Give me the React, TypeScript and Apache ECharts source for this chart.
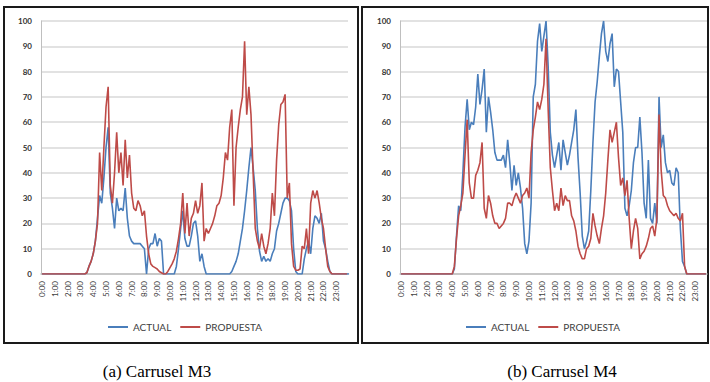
import React, { useEffect, useRef } from 'react';
import * as echarts from 'echarts';

const HOURS = ['0:00', '1:00', '2:00', '3:00', '4:00', '5:00', '6:00', '7:00', '8:00', '9:00', '10:00', '11:00',
  '12:00', '13:00', '14:00', '15:00', '16:00', '17:00', '18:00', '19:00', '20:00', '21:00', '22:00', '23:00'];
const MINUTES = ['00', '10', '20', '30', '40', '50'];
const CATEGORIES = HOURS.flatMap((h) => MINUTES.map((m) => h.slice(0, -2) + m));

const SERIES_NAMES = ['ACTUAL', 'PROPUESTA'];
const CAPTIONS = ['(a) Carrusel M3', '(b) Carrusel M4'];

const M3_ACTUAL = [
  0, 0, 0, 0, 0, 0, 0, 0, 0, 0, 0, 0, 0, 0, 0, 0, 0, 0, 0, 0, 0,
  0.5, 3, 5, 8, 13, 22, 31, 28, 38, 50, 58, 32, 26, 18, 30, 25, 26, 25, 34, 22,
  15, 13, 12, 12, 12, 12, 11, 10, 0, 10, 12, 12, 16, 11, 14, 13, 0, 0, 0, 0,
  0, 0, 3, 10, 18, 25, 14, 11, 11, 15, 20, 21, 15, 5, 8, 3, 0, 0, 0, 0,
  0, 0, 0, 0, 0, 0, 0, 0, 1, 3, 5, 8, 13, 18, 25, 33, 42, 50, 42, 33,
  18, 9, 5, 7, 5, 6, 5, 8, 10, 17, 20, 24, 28, 30, 30, 29, 25, 10, 1, 0,
  0, 0, 6, 10, 13, 8, 18, 23, 22, 20, 24, 13, 10, 5, 1,
  0, 0, 0, 0, 0, 0, 0, 0, 0,
];
const M3_PROPUESTA = [
  0, 0, 0, 0, 0, 0, 0, 0, 0, 0, 0, 0, 0, 0, 0, 0, 0, 0, 0, 0, 0,
  0.5, 3, 5, 8, 13, 20, 48, 33, 50, 66, 74, 35, 28, 40, 56, 40, 48, 35, 53, 38,
  47, 32, 26, 25, 29, 27, 23, 25, 15, 8, 4, 3, 2.5, 2, 1, 0.5, 0, 0, 1, 2.5,
  4, 6, 9, 14, 20, 32, 16, 28, 15, 22, 24, 29, 24, 27, 36, 13, 18, 16, 18, 20,
  23, 27, 28, 31, 38, 48, 45, 58, 65, 27, 50, 58, 65, 70, 92, 63, 74, 63, 40, 18,
  13, 10, 16, 11, 8, 12, 18, 32, 23, 45, 59, 67, 68, 71, 30, 36, 12, 3, 1.5, 1.5,
  2, 11, 10, 18, 8, 28, 33, 30, 33, 28, 22, 18, 10, 3, 1,
  0, 0, 0, 0, 0, 0, 0, 0,
];
const M4_ACTUAL = [
  0, 0, 0, 0, 0, 0, 0, 0, 0, 0, 0, 0, 0, 0, 0, 0, 0, 0, 0, 0, 0, 0, 0, 0, 0,
  2, 15, 27, 25, 40, 58, 69, 57, 60, 59, 66, 79, 67, 73, 81, 56, 70, 64, 57, 48,
  45, 45, 45, 47, 42, 53, 44, 33, 43, 35, 40, 34, 26, 12, 8, 13, 28, 70, 75, 92,
  99, 88, 94, 100, 82, 56, 47, 42, 47, 52, 41, 53, 48, 43, 47, 52, 57, 65, 46, 32,
  15, 10, 13, 17, 33, 52, 68, 76, 86, 95, 100, 88, 84, 91, 95, 74, 81, 80, 68, 56,
  26, 23, 27, 33, 44, 50, 50, 62, 48, 28, 22, 45, 22, 20, 28, 20, 70, 50, 55, 44,
  40, 41, 36, 35, 42, 40, 18, 5, 3,
  0, 0, 0, 0, 0, 0, 0, 0, 0, 0,
];
const M4_PROPUESTA = [
  0, 0, 0, 0, 0, 0, 0, 0, 0, 0, 0, 0, 0, 0, 0, 0, 0, 0, 0, 0, 0, 0, 0, 0, 0,
  3, 14, 23, 27, 32, 47, 61, 36, 30, 30, 39, 41, 44, 52, 26, 22, 31, 28, 23, 20,
  20, 18, 19, 20, 22, 28, 28, 27, 30, 32, 30, 28, 31, 32, 34, 30, 48, 57, 62, 68,
  65, 69, 75, 93, 65, 42, 33, 25, 28, 25, 34, 27, 31, 29, 29, 23, 21, 17, 11, 8,
  6, 6, 10, 11, 14, 24, 19, 15, 12, 18, 23, 32, 45, 57, 52, 56, 60, 46, 35, 38,
  31, 37, 22, 10, 17, 22, 18, 6, 8, 9, 11, 14, 18, 19, 15, 22, 63, 41, 31, 30,
  27, 25, 24, 23, 24, 22, 21, 24, 3,
  0, 0, 0, 0, 0, 0, 0, 0, 0, 0,
];

const PANELS = [
  { actual: M3_ACTUAL, propuesta: M3_PROPUESTA },
  { actual: M4_ACTUAL, propuesta: M4_PROPUESTA },
];

const FONT = 'Lato';
const BLUE = '#4a7ebb';
const RED = '#be4b48';

export default function App() {
  const ref = useRef<HTMLDivElement>(null);
  useEffect(() => {
    const chart = echarts.init(ref.current!, null, { renderer: 'svg' });
    const grids = [
      { left: 41, top: 21, width: 307, height: 253 },
      { left: 400, top: 21, width: 307, height: 253 },
    ];
    const xAxis = grids.map((_, k) => ({
      type: 'category',
      gridIndex: k,
      data: CATEGORIES,
      boundaryGap: true,
      axisLine: { lineStyle: { color: '#bfbfbf', width: 1.5 } },
      axisTick: { interval: 0, length: 3, lineStyle: { color: '#bfbfbf' } },
      axisLabel: { interval: 5, rotate: 90, fontSize: 8, color: '#404040', margin: 7, fontFamily: FONT },
    }));
    const yAxis = grids.map((_, k) => ({
      type: 'value',
      gridIndex: k,
      min: 0,
      max: 100,
      interval: 10,
      axisLine: { show: true, lineStyle: { color: '#bfbfbf' } },
      axisTick: { show: false },
      splitLine: { lineStyle: { color: '#d9d9d9', width: 1.5 } },
      axisLabel: { fontSize: 8, color: '#333', margin: 9, fontFamily: FONT, fontWeight: 'bold' },
    }));
    const series: any[] = [];
    PANELS.forEach((p, k) => {
      series.push({
        type: 'line', name: SERIES_NAMES[0], xAxisIndex: k, yAxisIndex: k, data: p.actual,
        symbol: 'none', color: BLUE, lineStyle: { color: BLUE, width: 1.6 },
      });
      series.push({
        type: 'line', name: SERIES_NAMES[1], xAxisIndex: k, yAxisIndex: k, data: p.propuesta,
        symbol: 'none', color: RED, lineStyle: { color: RED, width: 1.6 },
      });
    });
    const legendBase = {
      top: 322,
      padding: 0,
      data: SERIES_NAMES,
      icon: 'rect',
      itemWidth: 20,
      itemHeight: 2,
      itemGap: 9,
      selectedMode: false,
      textStyle: { fontSize: 10, color: '#404040', fontFamily: FONT },
    };
    chart.setOption({
      animation: false,
      backgroundColor: '#fff',
      grid: grids,
      xAxis,
      yAxis,
      series,
      legend: [
        { ...legendBase, left: 108 },
        { ...legendBase, left: 466 },
      ],
      graphic: [
        { type: 'rect', shape: { x: 4, y: 7, width: 354, height: 336 }, style: { fill: 'none', stroke: '#1a1a1a', lineWidth: 2 } },
        { type: 'rect', shape: { x: 362, y: 7, width: 346, height: 336 }, style: { fill: 'none', stroke: '#1a1a1a', lineWidth: 2 } },
        { type: 'text', x: 157, y: 371, style: { text: CAPTIONS[0], textAlign: 'center', textVerticalAlign: 'middle', font: '17px "Liberation Serif"', fill: '#000' } },
        { type: 'text', x: 562, y: 371, style: { text: CAPTIONS[1], textAlign: 'center', textVerticalAlign: 'middle', font: '17px "Liberation Serif"', fill: '#000' } },
      ],
    });
    return () => chart.dispose();
  }, []);
  return <div ref={ref} style={{ position: 'absolute', left: 0, top: 0, width: 710, height: 382, background: '#fff' }} />;
}
